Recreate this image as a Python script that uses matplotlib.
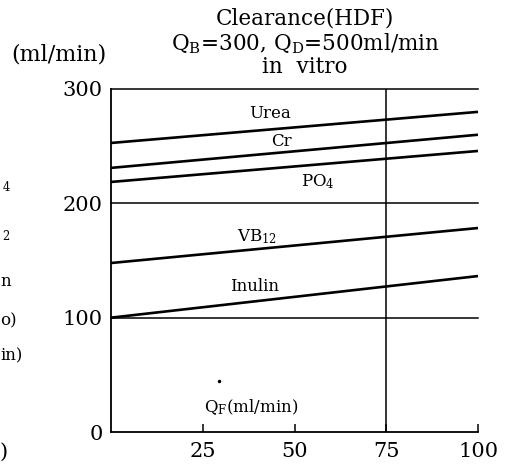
import matplotlib
matplotlib.use("Agg")
import matplotlib.pyplot as plt

plt.rcParams['font.family'] = ['DejaVu Serif']
plt.rcParams['mathtext.fontset'] = 'dejavuserif'

# Data
qf = [0, 100]
urea = [252.8, 280.0]
cr = [231.0, 260.0]
po4 = [218.7, 245.8]
vb12 = [147.8, 178.4]
inulin = [100.0, 136.4]

series = [
    ("Urea", urea, (43.3, 279)),
    ("Cr", cr, (46.5, 254)),
    ("PO$_\\mathregular{4}$", po4, (56.4, 219)),
    ("VB$_\\mathregular{12}$", vb12, (39.7, 171)),
    ("Inulin", inulin, (39.2, 127)),
]
xticks = [25, 50, 75, 100]
yticks = [0, 100, 200, 300]

fig = plt.figure(figsize=(5.08, 4.68), dpi=100)
ax = fig.add_axes([111/508, 36/468, 367/508, 343/468])
ax.set_xlim(0, 100)
ax.set_ylim(0, 300)

for name, vals, (lx, ly) in series:
    ax.plot(qf, vals, color='black', lw=1.9, solid_capstyle='butt', clip_on=False)
    ax.text(lx, ly, name, ha='center', va='center', fontsize=12)

for y in [100, 200, 300]:
    ax.axhline(y, color='black', lw=1.1, clip_on=False)
ax.axvline(75, color='black', lw=1.1)

for s in ['top', 'right']:
    ax.spines[s].set_visible(False)
ax.spines['left'].set_linewidth(1.3)
ax.spines['bottom'].set_linewidth(1.3)

ax.set_xticks(xticks)
ax.set_yticks(yticks)
ax.tick_params(axis='x', direction='in', length=6, width=1.1, labelsize=15, pad=7)
ax.tick_params(axis='y', length=0, labelsize=15, pad=6)

ax.text(38.3, 22, "Q$_\\mathregular{F}$(ml/min)", ha='center', va='center', fontsize=12)
ax.plot([29.4], [45], marker='o', ms=1.5, color='black')

fig.text(305/508, 1 - 18/468, "Clearance(HDF)", ha='center', va='center', fontsize=15.5)
fig.text(305/508, 1 - 44/468, "Q$_\\mathregular{B}$=300, Q$_\\mathregular{D}$=500ml/min", ha='center', va='center', fontsize=15.5)
fig.text(305/508, 1 - 67/468, "in  vitro", ha='center', va='center', fontsize=15.5)
fig.text(59/508, 1 - 55/468, "(ml/min)", ha='center', va='center', fontsize=16)

# cropped fragments of neighbouring figure at the left edge
fig.text(2/508, 1 - 186/468, "$_\\mathregular{4}$", ha='left', va='center', fontsize=12)
fig.text(2/508, 1 - 238/468, "$^\\mathregular{2}$", ha='left', va='center', fontsize=12)
fig.text(0/508, 1 - 282/468, "n", ha='left', va='center', fontsize=12)
fig.text(0/508, 1 - 321/468, "o)", ha='left', va='center', fontsize=12)
fig.text(0/508, 1 - 356/468, "in)", ha='left', va='center', fontsize=12)
fig.text(0/508, 1 - 452/468, ")", ha='left', va='center', fontsize=15)

fig.savefig("out.png", dpi=100)
